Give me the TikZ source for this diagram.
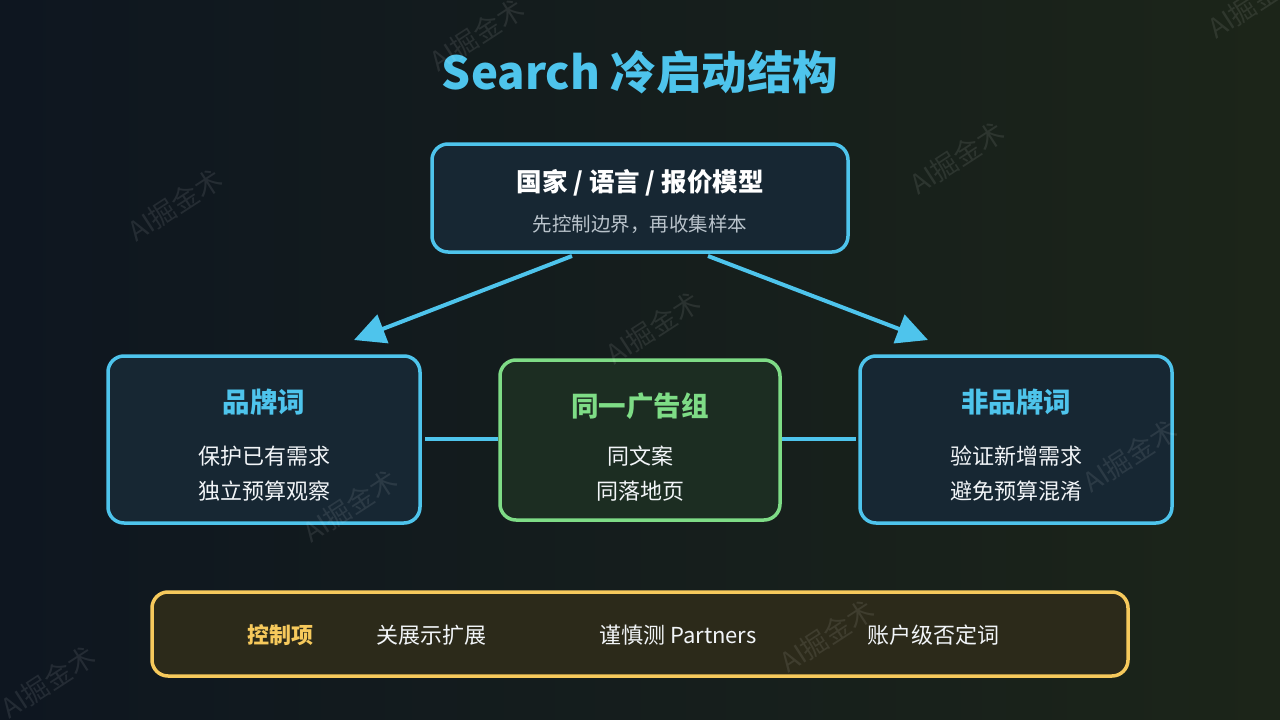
\documentclass[tikz,border=0pt]{standalone}
\usepackage{fontspec}
\setmainfont{Noto Sans CJK SC}
\usetikzlibrary{arrows.meta}
\definecolor{bgL}{HTML}{0E1620}
\definecolor{bgR}{HTML}{1C2519}
\definecolor{cblue}{HTML}{4EC4EC}
\definecolor{cgreen}{HTML}{7EDC86}
\definecolor{cyellow}{HTML}{F6C95C}
\definecolor{fblue}{HTML}{172733}
\definecolor{fgreen}{HTML}{1C2D22}
\definecolor{fyellow}{HTML}{2C2A1A}
\definecolor{subgray}{HTML}{B9C3CB}
\definecolor{bodywhite}{HTML}{F2F5F8}
\tikzset{
  boxbase/.style={rectangle, rounded corners=16pt, line width=3.5pt, inner sep=0pt},
  bluebox/.style={boxbase, draw=cblue, fill=fblue},
  greenbox/.style={boxbase, draw=cgreen, fill=fgreen},
  yellowbox/.style={boxbase, draw=cyellow, fill=fyellow},
  txt/.style={inner sep=0pt, anchor=center},
  ttl/.style={txt, font=\fontsize{27.5}{32}\selectfont\bfseries},
  bodytxt/.style={txt, text=bodywhite, font=\fontsize{22}{26}\selectfont},
  link/.style={draw=cblue, line width=4pt},
  arrowlink/.style={link, -{Triangle[length=31pt,width=30pt]}},
  wm/.style={txt, text=white, opacity=0.09, rotate=33, font=\fontsize{27}{30}\selectfont}
}
\begin{document}
\begin{tikzpicture}[x=1pt,y=-1pt]
\useasboundingbox (0,0) rectangle (1280,720);
\shade[left color=bgL, right color=bgR] (0,0) rectangle (1280,720);

% title
\node[txt, text=cblue, font=\fontsize{45.5}{52}\selectfont\bfseries] (title) at (640,72) {Search 冷启动结构};

% top box
\node[bluebox, minimum width=416pt, minimum height=108pt] (top) at (640,198) {};
\node[txt, text=white, font=\fontsize{25.5}{30}\selectfont\bfseries] (topt) at (640,183) {国家 / 语言 / 报价模型};
\node[txt, text=subgray, font=\fontsize{19.5}{24}\selectfont] (tops) at (640,224) {先控制边界，再收集样本};

% left box
\node[bluebox, minimum width=312pt, minimum height=167pt] (L) at (264,439.5) {};
\node[ttl, text=cblue] (Lt) at (264,402) {品牌词};
\node[bodytxt] (L1) at (264,456) {保护已有需求};
\node[bodytxt] (L2) at (264,491) {独立预算观察};

% middle box
\node[greenbox, minimum width=280pt, minimum height=160pt] (M) at (640,440) {};
\node[ttl, text=cgreen] (Mt) at (640,406) {同一广告组};
\node[bodytxt] (M1) at (640,456) {同文案};
\node[bodytxt] (M2) at (640,491) {同落地页};

% right box
\node[bluebox, minimum width=312pt, minimum height=167pt] (R) at (1016,439.5) {};
\node[ttl, text=cblue] (Rt) at (1016,402) {非品牌词};
\node[bodytxt] (R1) at (1016,456) {验证新增需求};
\node[bodytxt] (R2) at (1016,491) {避免预算混淆};

% connectors
\coordinate (a1s) at (572,256);
\coordinate (a1e) at (354,340);
\coordinate (a2s) at (708,256);
\coordinate (a2e) at (928,340);
\draw[arrowlink] (a1s) -- (a1e);
\draw[arrowlink] (a2s) -- (a2e);
\coordinate (h1s) at (425,439);
\coordinate (h1e) at (498,439);
\coordinate (h2s) at (782,439);
\coordinate (h2e) at (856,439);
\draw[link] (h1s) -- (h1e);
\draw[link] (h2s) -- (h2e);

% bottom bar
\node[yellowbox, minimum width=976pt, minimum height=84pt] (B) at (640,634) {};
\node[txt, text=cyellow, font=\fontsize{22}{26}\selectfont\bfseries] (B0) at (280,635) {控制项};
\node[bodytxt] (B1) at (431,635) {关展示扩展};
\node[bodytxt] (B2) at (678,635) {谨慎测 Partners};
\node[bodytxt] (B3) at (933,635) {账户级否定词};

% watermarks
\node[wm] (w1) at (477,35) {AI掘金术};
\node[wm] (w2) at (175,205) {AI掘金术};
\node[wm] (w3) at (957,158) {AI掘金术};
\node[wm] (w4) at (653,328) {AI掘金术};
\node[wm] (w5) at (350,506) {AI掘金术};
\node[wm] (w6) at (1130,456) {AI掘金术};
\node[wm] (w7) at (827,636) {AI掘金术};
\node[wm] (w8) at (48,682) {AI掘金术};
\node[wm] (w9) at (1255,2) {AI掘金术};
\end{tikzpicture}
\end{document}
